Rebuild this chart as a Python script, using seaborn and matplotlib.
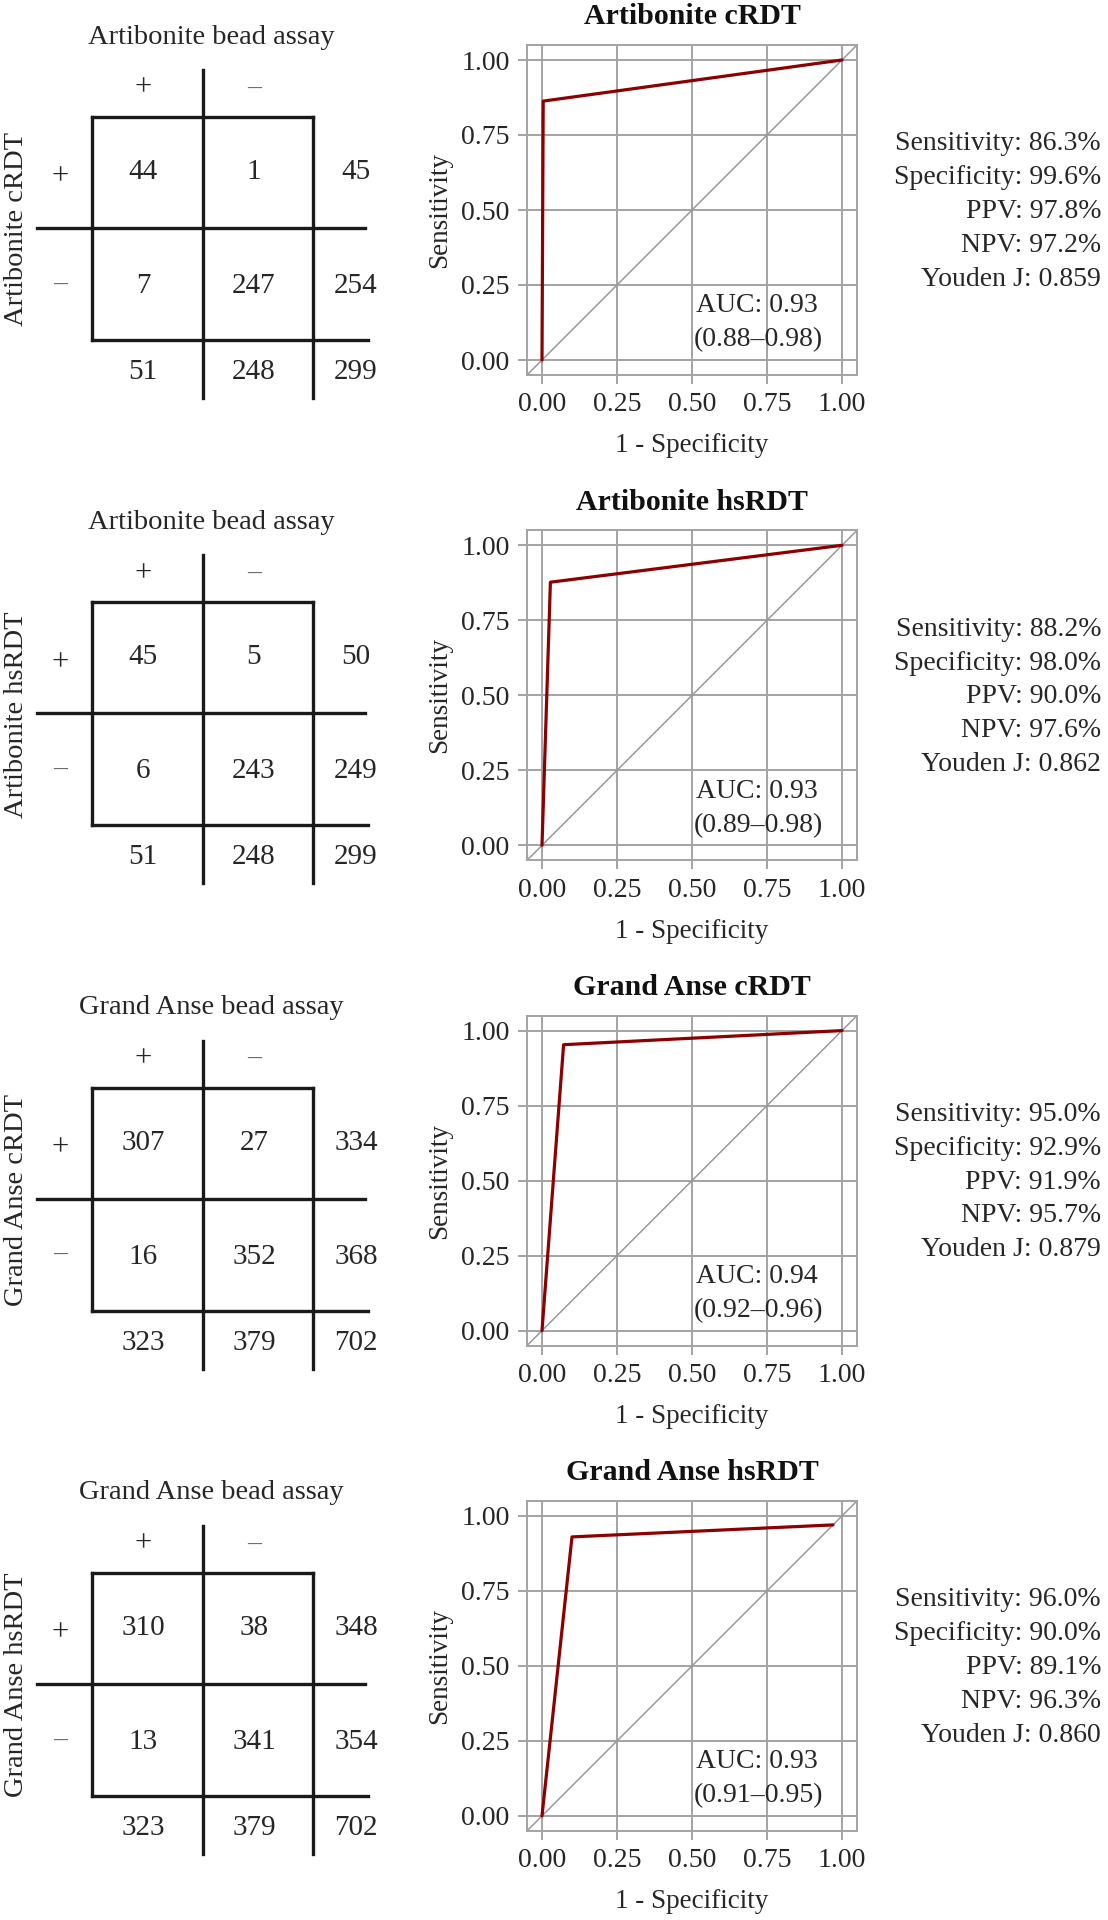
import pandas as pd
import seaborn as sns
import matplotlib.pyplot as plt

sns.set_theme(style="whitegrid")
plt.rcParams["font.family"] = ["Liberation Serif", "DejaVu Serif"]

# Data
test_names = ["Artibonite cRDT", "Artibonite hsRDT", "Grand Anse cRDT", "Grand Anse hsRDT"]
ref_names = ["Artibonite bead assay", "Artibonite bead assay",
             "Grand Anse bead assay", "Grand Anse bead assay"]

# 2x2 counts (rows = RDT +/-, columns = bead assay +/-)
true_pos = [44, 45, 307, 310]
false_pos = [1, 5, 27, 38]
false_neg = [7, 6, 16, 13]
true_neg = [247, 243, 352, 341]

# ROC curve points (1 - specificity, sensitivity)
roc_fpr = [[0, 0.004, 1.0], [0, 0.028, 1.0], [0, 0.072, 1.0], [0, 0.10, 0.97]]
roc_tpr = [[0, 0.863, 1.0], [0, 0.877, 1.0], [0, 0.953, 1.0], [0, 0.93, 0.97]]

auc = [0.93, 0.93, 0.94, 0.93]
auc_lo = [0.88, 0.89, 0.92, 0.91]
auc_hi = [0.98, 0.98, 0.96, 0.95]

sensitivity = [86.3, 88.2, 95.0, 96.0]
specificity = [99.6, 98.0, 92.9, 90.0]
ppv = [97.8, 90.0, 91.9, 89.1]
npv = [97.2, 97.6, 95.7, 96.3]
youden = [0.859, 0.862, 0.879, 0.860]

ticks = [0.0, 0.25, 0.5, 0.75, 1.0]

# layout (pixels)
W, H = 1108, 1920
ROW = 485.3
TXT = "#262626"
GRID = "#a3a3a3"
RED = "#8b0000"
FS = 19.5

fig = plt.figure(figsize=(W / 100, H / 100), dpi=100)


def px_axes(left, top, w, h):
    return fig.add_axes([left / W, 1 - (top + h) / H, w / W, h / H])


for r in range(4):
    top = r * ROW

    # ---- 2x2 table ----
    tab = px_axes(0, top, 400, ROW)
    tab.set_xlim(0, 400)
    tab.set_ylim(ROW, 0)
    tab.axis("off")
    seg = [([92, 313], [117, 117]), ([37, 365], [228, 228]), ([92, 368], [340, 340]),
           ([92, 92], [117, 340]), ([203, 203], [70, 398]), ([313, 313], [117, 398])]
    for xs, ys in seg:
        tab.plot(xs, ys, color="#1a1a1a", lw=2.4, solid_capstyle="projecting")

    tp, fp, fn, tn = true_pos[r], false_pos[r], false_neg[r], true_neg[r]
    cells = [[tp, fp, tp + fp], [fn, tn, fn + tn], [tp + fn, fp + tn, tp + fp + fn + tn]]
    col_x = [143, 254, 356]
    row_y = [172, 286, 372]
    for i, row_vals in enumerate(cells):
        for j, v in enumerate(row_vals):
            tab.text(col_x[j], row_y[i], str(v), ha="center", va="center",
                     fontsize=21, color=TXT)
    tab.text(143, 88, "+", ha="center", va="center", fontsize=22, color=TXT)
    tab.text(254, 88, "–", ha="center", va="center", fontsize=20, color="#666666")
    tab.text(60, 177, "+", ha="center", va="center", fontsize=22, color=TXT)
    tab.text(60, 284, "–", ha="center", va="center", fontsize=20, color="#666666")
    tab.text(211, 37, ref_names[r], ha="center", va="center", fontsize=20.5, color=TXT)
    tab.text(17, 229, test_names[r], ha="center", va="center", rotation=90,
             fontsize=20.5, color=TXT)

    # ---- ROC curve ----
    ax = px_axes(527, top + 45, 330, 330)
    ax.set_xlim(-0.05, 1.05)
    ax.set_ylim(-0.05, 1.05)
    ax.set_xticks(ticks)
    ax.set_yticks(ticks)
    ax.set_xticklabels([f"{t:.2f}" for t in ticks])
    ax.set_yticklabels([f"{t:.2f}" for t in ticks])
    ax.grid(True, color=GRID, lw=1.4)
    for sp in ax.spines.values():
        sp.set_color(GRID)
        sp.set_linewidth(1.4)
    ax.tick_params(bottom=True, left=True, length=6.5, width=1.4, color=GRID,
                   labelsize=20, labelcolor=TXT, pad=6)
    ax.axline((0, 0), (1, 1), color="#999999", lw=1.1, zorder=2)

    df = pd.DataFrame({"fpr": roc_fpr[r], "tpr": roc_tpr[r]})
    sns.lineplot(data=df, x="fpr", y="tpr", sort=False, estimator=None,
                 color=RED, lw=2.3, ax=ax, zorder=3)
    ax.set_xlabel("1 - Specificity", fontsize=FS, color=TXT, labelpad=11.5)
    ax.set_ylabel("Sensitivity", fontsize=FS, color=TXT, labelpad=6.5)
    ax.text(0.5, 1 + 28 / 330, test_names[r], transform=ax.transAxes,
            ha="center", va="center", fontsize=21.5, fontweight="bold", color="#111111")
    ax.text(0.515, 0.18, f"AUC: {auc[r]:.2f}", ha="left", va="center",
            fontsize=20, color=TXT, zorder=4)
    ax.text(0.505, 0.067, f"({auc_lo[r]:.2f}–{auc_hi[r]:.2f})", ha="left", va="center",
            fontsize=20, color=TXT, zorder=4)

    # ---- summary statistics ----
    lines = [f"Sensitivity: {sensitivity[r]:.1f}%",
             f"Specificity: {specificity[r]:.1f}%",
             f"PPV: {ppv[r]:.1f}%",
             f"NPV: {npv[r]:.1f}%",
             f"Youden J: {youden[r]:.3f}"]
    for k, line in enumerate(lines):
        fig.text(1101 / W, 1 - (top + 144 + 33.8 * k) / H, line, ha="right",
                 va="center", fontsize=FS + 0.5, color=TXT)

fig.savefig("out.png", dpi=100)
